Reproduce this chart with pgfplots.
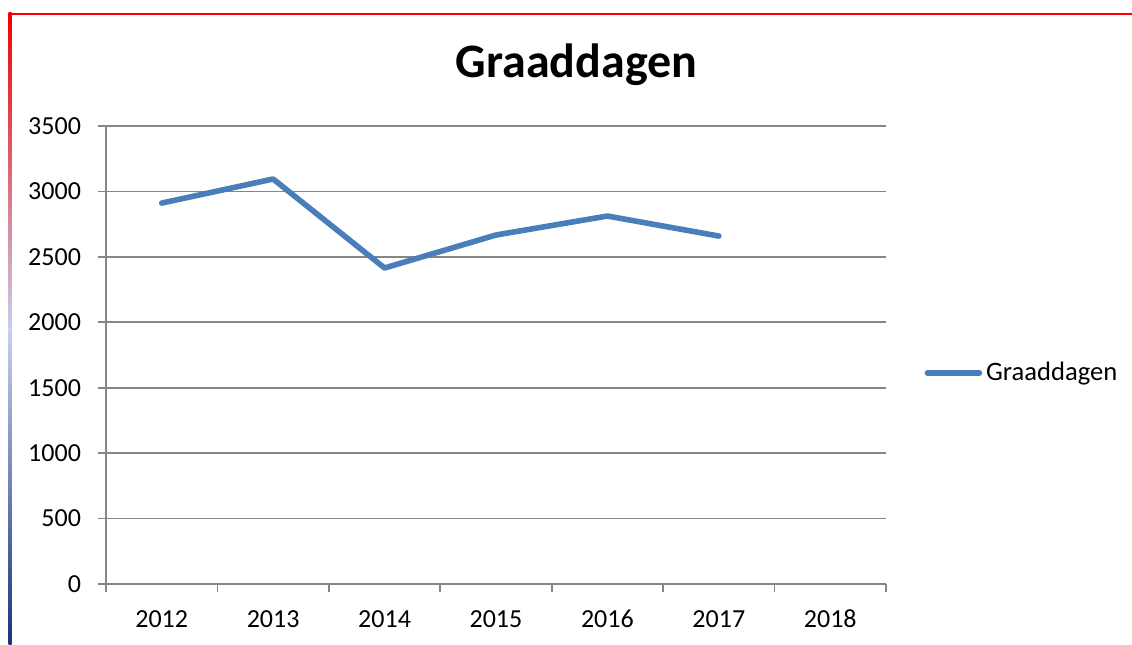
\documentclass[border=0pt]{standalone}
\usepackage{pgfplots}
\pgfplotsset{compat=1.18}
\usepackage{fontspec}
\setmainfont{Carlito}
\definecolor{serie}{HTML}{4A7EBB}
\definecolor{gridc}{HTML}{868686}
\definecolor{bordtop}{HTML}{F00000}
\definecolor{bordmid}{HTML}{C8D0EE}
\definecolor{bordbot}{HTML}{1A3278}
\pgfplotstableread{
x val
0 2911
1 3095
2 2415
3 2667
4 2812
5 2659
}\datatable
\begin{document}
\begin{tikzpicture}[x=0.5pt,y=0.5pt]
\path[use as bounding box] (0,0) rectangle (1132,644);
% border
\draw[red, line width=1.2pt] (10,630) -- (1132,630);
\shade[top color=bordtop, bottom color=bordmid] (8.5,314) rectangle (11.5,631);
\shade[top color=bordmid, bottom color=bordbot] (8.5,0) rectangle (11.5,314.5);
\node[font=\bfseries\fontsize{24}{28}\selectfont, anchor=center] at (576.5,579) {Graaddagen};
\begin{axis}[
  at={(53pt,30pt)}, anchor=south west,
  scale only axis, width=390pt, height=229pt,
  xmin=-0.5, xmax=6.5, ymin=0, ymax=3500,
  axis x line=bottom, axis y line=left,
  axis line style={gridc, line width=0.8pt, -},
  xtick={0,1,2,3,4,5,6},
  xticklabels={2012,2013,2014,2015,2016,2017,2018},
  major x tick style={draw=none},
  minor xtick={-0.5,0.5,1.5,2.5,3.5,4.5,5.5,6.5},
  minor tick length=4pt,
  minor x tick style={gridc, line width=0.8pt},
  ytick={0,500,...,3500},
  major tick length=4pt,
  tick align=outside,
  y tick style={gridc, line width=0.8pt},
  ymajorgrids, grid style={gridc, line width=0.8pt},
  tick label style={font=\fontsize{13}{15}\selectfont},
  /pgf/number format/assume math mode=true,
  yticklabel style={/pgf/number format/1000 sep={}},
  xticklabel style={text height=9pt, text depth=0pt, yshift=-5pt},
  yticklabel style={xshift=-5pt},
  legend style={at={(1.049,0.4607)}, anchor=west, draw=none, fill=none,
    font=\fontsize{13.3}{15}\selectfont, inner sep=0pt},
  legend image code/.code={\draw[line width=2.8pt, line cap=round, serie] (0pt,0pt) -- (26pt,0pt);},
  legend cell align=left,
  clip=false,
]
\addplot[serie, line width=2.8pt, line join=round, line cap=round] table[x=x, y=val] {\datatable};
\addlegendentry{Graaddagen}
\end{axis}
\end{tikzpicture}
\end{document}
